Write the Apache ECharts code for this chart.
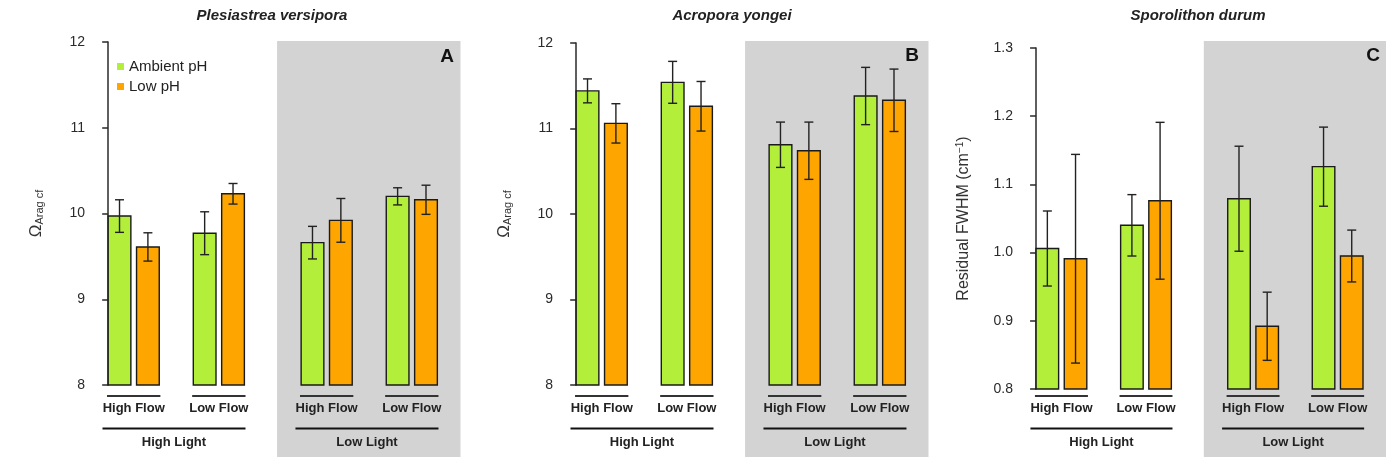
<!DOCTYPE html>
<html><head><meta charset="utf-8">
<script src="https://cdn.jsdelivr.net/npm/echarts@6/dist/echarts.min.js"></script>
<style>html,body{margin:0;padding:0;background:#fff}#c{width:1386px;height:465px}</style>
</head><body><div id="c"></div>
<script>
// ---- data ----
const titles = ['Plesiastrea versipora', 'Acropora yongei', 'Sporolithon durum'];
const panelLetters = ['A', 'B', 'C'];
const flowLabels = ['High Flow', 'Low Flow'];
const lightLabels = ['High Light', 'Low Light'];
const seriesNames = ['Ambient pH', 'Low pH'];
// order of bars in each array: HighLight-HighFlow, HighLight-LowFlow, LowLight-HighFlow, LowLight-LowFlow
const ambientA = [9.97, 9.77, 9.66, 10.20];
const ambientErrA = [0.19, 0.25, 0.19, 0.10];
const lowA = [9.61, 10.23, 9.92, 10.16];
const lowErrA = [0.165, 0.12, 0.255, 0.17];
const ambientB = [11.44, 11.54, 10.81, 11.38];
const ambientErrB = [0.14, 0.245, 0.265, 0.335];
const lowB = [11.06, 11.26, 10.74, 11.33];
const lowErrB = [0.23, 0.29, 0.335, 0.365];
const ambientC = [1.006, 1.040, 1.079, 1.126];
const ambientErrC = [0.055, 0.045, 0.077, 0.058];
const lowC = [0.991, 1.076, 0.892, 0.995];
const lowErrC = [0.153, 0.115, 0.050, 0.038];
const yTicksAB = [8, 9, 10, 11, 12];
const yTicksC = [0.8, 0.9, 1.0, 1.1, 1.2, 1.3];

// ---- layout/style ----
const FONT = '"Liberation Sans", Arial, Helvetica, sans-serif';
const GREEN = '#B3EE3A', ORANGE = '#FFA500', GRAY = '#D3D3D3';
const XMIN = -0.58, XMAX = 15.52, SHADE_X = 7.44;
const grids = [
  {left: 95, top: 42, width: 365.5, height: 343},
  {left: 563, top: 43, width: 365.5, height: 342},
  {left: 1023, top: 48, width: 365.5, height: 341}
];
const panels = [
  {amb: ambientA, ambE: ambientErrA, low: lowA, lowE: lowErrA, ticks: yTicksAB, dec: 0},
  {amb: ambientB, ambE: ambientErrB, low: lowB, lowE: lowErrB, ticks: yTicksAB, dec: 0},
  {amb: ambientC, ambE: ambientErrC, low: lowC, lowE: lowErrC, ticks: yTicksC, dec: 1}
];
function xPos(i, ph) {
  const light = Math.floor(i / 2), flow = i % 2;
  return light * 8.5 + flow * 3.75 + ph * 1.25 + 0.5;
}
const ymins = panels.map(p => p.ticks[0]);

const xAxis = [], yAxis = [], series = [], graphic = [];
const yNames = [
  '{o|Ω}{s|Arag cf}', '{o|Ω}{s|Arag cf}', 'Residual FWHM (cm{sup|−1})'
];
panels.forEach((p, k) => {
  xAxis.push({gridIndex: k, type: 'value', min: XMIN, max: XMAX, show: false});
  const interval = Math.round((p.ticks[1] - p.ticks[0]) * 1000) / 1000;
  yAxis.push({
    gridIndex: k, type: 'value', min: p.ticks[0], max: p.ticks[p.ticks.length - 1], interval,
    axisLine: {show: true, lineStyle: {color: '#2a2a2a', width: 1.5}},
    axisTick: {show: true, length: 6, lineStyle: {color: '#2a2a2a', width: 1.5}},
    splitLine: {show: false},
    axisLabel: {fontFamily: FONT, fontSize: 14, color: '#2a2a2a', margin: 10,
      formatter: v => v.toFixed(p.dec)},
    name: yNames[k], nameLocation: 'middle', nameRotate: 90,
    nameGap: k === 2 ? 50 : 50,
    nameTextStyle: {fontFamily: FONT, color: '#333', fontSize: k === 2 ? 16 : 16,
      rich: {
        o: {fontFamily: FONT, fontSize: 17, color: '#333'},
        s: {fontFamily: FONT, fontSize: 11, color: '#333', verticalAlign: 'bottom', padding: [7, 0, 0, 0]},
        sup: {fontFamily: FONT, fontSize: 10, color: '#333', verticalAlign: 'top', padding: [0, 0, 8, 0]}
      }}
  });
  // gray shaded region (low light)
  series.push({
    type: 'custom', xAxisIndex: k, yAxisIndex: k, z: 1, silent: true,
    data: [[SHADE_X, ymins[k]]],
    renderItem: (params, api) => {
      const a = api.coord([api.value(0), ymins[k]]);
      const b = api.coord([XMAX, ymins[k]]);
      return {type: 'rect', shape: {x: a[0], y: 41, width: b[0] - a[0], height: 416},
        style: {fill: GRAY}};
    }
  });
  // bars
  [[p.amb, GREEN, 0], [p.low, ORANGE, 1]].forEach(([vals, color, ph]) => {
    series.push({
      type: 'custom', name: seriesNames[ph], xAxisIndex: k, yAxisIndex: k, z: 3,
      itemStyle: {color},
      data: vals.map((v, i) => [xPos(i, ph), v]),
      encode: {x: 0, y: 1},
      renderItem: (params, api) => {
        const x = api.value(0), v = api.value(1);
        const a = api.coord([x - 0.5, v]);
        const b = api.coord([x + 0.5, ymins[k]]);
        return {type: 'rect', shape: {x: a[0], y: a[1], width: b[0] - a[0], height: b[1] - a[1]},
          style: {fill: color, stroke: '#1a1a1a', lineWidth: 1.4}};
      }
    });
  });
  // error bars
  [[p.amb, p.ambE, 0], [p.low, p.lowE, 1]].forEach(([vals, errs, ph]) => {
    series.push({
      type: 'custom', xAxisIndex: k, yAxisIndex: k, z: 4, silent: true,
      data: vals.map((v, i) => [xPos(i, ph), v - errs[i], v + errs[i]]),
      encode: {x: 0, y: [1, 2]},
      renderItem: (params, api) => {
        const x = api.value(0);
        const lo = api.coord([x, api.value(1)]);
        const hi = api.coord([x, api.value(2)]);
        const hw = 4.5;
        const st = {stroke: '#222', lineWidth: 1.4};
        return {type: 'group', children: [
          {type: 'line', shape: {x1: lo[0], y1: lo[1], x2: hi[0], y2: hi[1]}, style: st},
          {type: 'line', shape: {x1: lo[0] - hw, y1: lo[1], x2: lo[0] + hw, y2: lo[1]}, style: st},
          {type: 'line', shape: {x1: hi[0] - hw, y1: hi[1], x2: hi[0] + hw, y2: hi[1]}, style: st}
        ]};
      }
    });
  });
  // flow group labels
  series.push({
    type: 'custom', xAxisIndex: k, yAxisIndex: k, z: 4, silent: true,
    data: [0, 1, 2, 3].map(i => [xPos(i, 0) - 0.55, xPos(i, 1) + 0.55, ymins[k]]),
    renderItem: (params, api) => {
      const a = api.coord([api.value(0), api.value(2)]);
      const b = api.coord([api.value(1), api.value(2)]);
      const label = flowLabels[params.dataIndex % 2];
      return {type: 'group', children: [
        {type: 'line', shape: {x1: a[0], y1: 396, x2: b[0], y2: 396}, style: {stroke: '#333', lineWidth: 1.8}},
        {type: 'text', x: (a[0] + b[0]) / 2, y: 408.5,
          style: {text: label, font: 'bold 13px ' + FONT, fill: '#222',
            align: 'center', verticalAlign: 'middle', textAlign: 'center', textVerticalAlign: 'middle'}}
      ]};
    }
  });
  // light labels
  series.push({
    type: 'custom', xAxisIndex: k, yAxisIndex: k, z: 4, silent: true,
    data: [0, 1].map(l => [xPos(l * 2, 0) - 0.75, xPos(l * 2 + 1, 1) + 0.55, ymins[k]]),
    renderItem: (params, api) => {
      const a = api.coord([api.value(0), api.value(2)]);
      const b = api.coord([api.value(1), api.value(2)]);
      return {type: 'group', children: [
        {type: 'line', shape: {x1: a[0], y1: 428.5, x2: b[0], y2: 428.5}, style: {stroke: '#111', lineWidth: 1.8}},
        {type: 'text', x: (a[0] + b[0]) / 2, y: 442.5,
          style: {text: lightLabels[params.dataIndex], font: 'bold 13px ' + FONT, fill: '#222',
            align: 'center', verticalAlign: 'middle', textAlign: 'center', textVerticalAlign: 'middle'}}
      ]};
    }
  });
});

const titleX = [272, 732, 1198];
const letterPos = [[447, 57], [912, 56], [1373, 56]];
titles.forEach((t, k) => {
  graphic.push({type: 'text', x: titleX[k], y: 16, z: 10,
    style: {text: t, font: 'italic bold 15px ' + FONT, fill: '#222',
      align: 'center', verticalAlign: 'middle', textAlign: 'center', textVerticalAlign: 'middle'}});
  graphic.push({type: 'text', x: letterPos[k][0], y: letterPos[k][1], z: 10,
    style: {text: panelLetters[k], font: 'bold 19px ' + FONT, fill: '#111',
      align: 'center', verticalAlign: 'middle', textAlign: 'center', textVerticalAlign: 'middle'}});
});

const chart = echarts.init(document.getElementById('c'), null, {renderer: 'canvas'});
chart.setOption({
  animation: false,
  backgroundColor: '#fff',
  grid: grids.map(g => Object.assign({containLabel: false}, g)),
  xAxis, yAxis, series, graphic,
  legend: {
    data: seriesNames.map(n => ({name: n, icon: 'rect'})),
    orient: 'vertical', left: 112, top: 54, itemWidth: 7, itemHeight: 7, itemGap: 5,
    textStyle: {fontFamily: FONT, fontSize: 15, color: '#222'},
    selectedMode: false
  }
});
</script>
</body></html>
